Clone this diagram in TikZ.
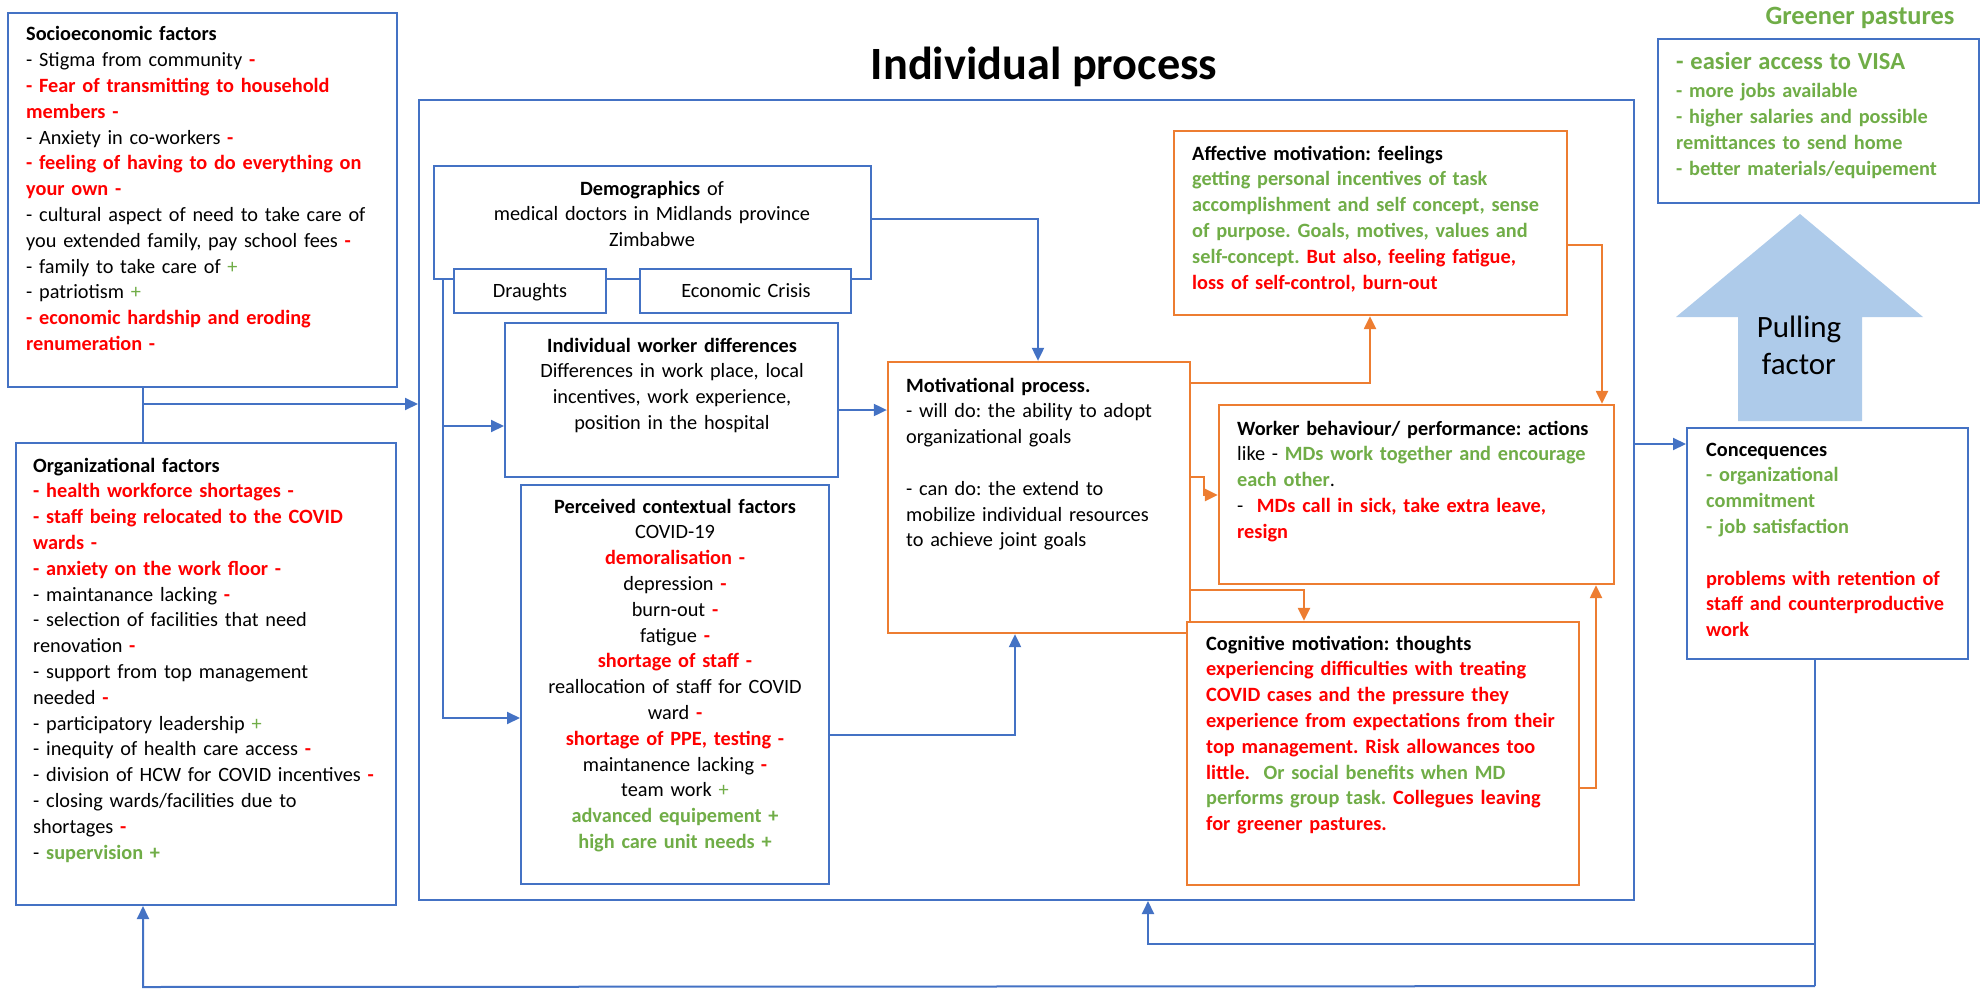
\documentclass[tikz,border=0pt]{standalone}
\usepackage{fontspec}
\setmainfont{Carlito}
\usetikzlibrary{arrows.meta,fit}
\frenchspacing

\definecolor{cred}{HTML}{FF0000}
\definecolor{cgreen}{HTML}{70AD47}
\definecolor{cblue}{HTML}{4472C4}
\definecolor{corange}{HTML}{ED7D31}
\definecolor{carrow}{RGB}{174,203,234}

\newcommand\rminus{\textcolor{cred}{\textbf{-}}}
\newcommand\gplus{\textcolor{cgreen}{+}}
\newcommand\rb[1]{\textcolor{cred}{\textbf{#1}}}
\newcommand\gb[1]{\textcolor{cgreen}{\textbf{#1}}}

\tikzset{
  bluebox/.style={draw=cblue, line width=2pt, fill=white, inner sep=0pt},
  orangebox/.style={draw=corange, line width=2.3pt, fill=white, inner sep=0pt},
  body/.style={inner sep=0pt, font=\fontsize{20.3}{25.8}\selectfont,
    text width=#1, align=left, anchor=base west},
  cbody/.style={inner sep=0pt, font=\fontsize{20.3}{25.8}\selectfont,
    text width=#1, align=center, anchor=base},
  bconn/.style={draw=cblue, line width=2pt},
  barrow/.style={bconn, -{Triangle[length=13pt,width=12pt]}},
  oarrow/.style={draw=corange, line width=2.3pt, -{Triangle[length=13pt,width=12pt]}},
}

\begin{document}
\begin{tikzpicture}[x=1pt,y=-1pt]
\useasboundingbox (0,0) rectangle (1984,990);

% ---- outer frame of the individual process ----
\node[bluebox, fill=none, fit={(419,100) (1634,900)}] (big) {};
\node[inner sep=0pt, anchor=base, font=\fontsize{46.3}{52}\selectfont\bfseries] (title) at (1044,79) {Individual process};

% ---- left column ----
\node[bluebox, fit={(8,13) (397,387)}] (socio) {};
\node[body=385pt] (socioT) at (26,41) {%
\textbf{Socioeconomic factors}\\
- Stigma from community \rminus\\
\rb{- Fear of transmitting to household}\\
\rb{members -}\\
- Anxiety in co-workers \rminus\\
\rb{- feeling of having to do everything on}\\
\rb{your own -}\\
- cultural aspect of need to take care of\\
you extended family, pay school fees \rminus\\
- family to take care of \gplus\\
- patriotism \gplus\\
\rb{- economic hardship and eroding}\\
\rb{renumeration -}};

\node[bluebox, fit={(16,443) (396,905)}] (org) {};
\node[body=370pt] (orgT) at (33,472) {%
\textbf{Organizational factors}\\
\rb{- health workforce shortages -}\\
\rb{- staff being relocated to the COVID}\\
\rb{wards -}\\
\rb{- anxiety on the work floor -}\\
- maintanance lacking \rminus\\
- selection of facilities that need\\
renovation \rminus\\
- support from top management\\
needed \rminus\\
- participatory leadership \gplus\\
- inequity of health care access \rminus\\
- division of HCW for COVID incentives \rminus\\
- closing wards/facilities due to\\
shortages \rminus\\
- \gb{supervision +}};

% ---- inside the individual process ----
\node[bluebox, fit={(434,166) (871,279)}] (demo) {};
\node[cbody=430pt] (demoT) at (652,195) {%
\textbf{Demographics} of\\
medical doctors in Midlands province\\
Zimbabwe};
\node[bluebox, fit={(454,269) (606,313)}] (draughts) {};
\node[cbody=150pt] (draughtsT) at (530,297) {Draughts};
\node[bluebox, fit={(640,269) (851,313)}] (eco) {};
\node[cbody=210pt] (ecoT) at (746,297) {Economic Crisis};

\node[bluebox, fit={(505,323) (838,477)}] (iwd) {};
\node[cbody=330pt] (iwdT) at (672,352) {%
\textbf{Individual worker differences}\\
Differences in work place, local\\
incentives, work experience,\\
position in the hospital};

\node[bluebox, fit={(521,485) (829,884)}] (perc) {};
\node[cbody=305pt] (percT) at (675,513) {%
\textbf{Perceived contextual factors}\\
COVID-19\\
\rb{demoralisation -}\\
depression \rminus\\
burn-out \rminus\\
fatigue \rminus\\
\rb{shortage of staff -}\\
reallocation of staff for COVID\\
ward \rminus\\
\rb{shortage of PPE, testing -}\\
maintanence lacking \rminus\\
team work \gplus\\
\gb{advanced equipement +}\\
\gb{high care unit needs +}};

\node[orangebox, fit={(888,362) (1190,633)}] (motiv) {};
\node[body=280pt] (motivT) at (906,392) {%
\textbf{Motivational process.}\\
- will do: the ability to adopt\\
organizational goals\\[25.8pt]
- can do: the extend to\\
mobilize individual resources\\
to achieve joint goals};

\node[orangebox, fit={(1174,131) (1567,315)}] (affect) {};
\node[body=375pt] (affectT) at (1192,160) {%
\textbf{Affective motivation: feelings}\\
\gb{getting personal incentives of task}\\
\gb{accomplishment and self concept, sense}\\
\gb{of purpose. Goals, motives, values and}\\
\gb{self-concept.} \rb{But also, feeling fatigue,}\\
\rb{loss of self-control, burn-out}};

\node[orangebox, fit={(1219,405) (1614,584)}] (worker) {};
\node[body=375pt] (workerT) at (1237,435) {%
\textbf{Worker behaviour/ performance: actions}\\
like - \gb{MDs work together and encourage}\\
\gb{each other}.\\
-\ \ \rb{MDs call in sick, take extra leave,}\\
\rb{resign}};

\node[orangebox, fit={(1187,622) (1579,885)}] (cogn) {};
\node[body=375pt] (cognT) at (1206,650) {%
\textbf{Cognitive motivation: thoughts}\\
\rb{experiencing difficulties with treating}\\
\rb{COVID cases and the pressure they}\\
\rb{experience from expectations from their}\\
\rb{top management. Risk allowances too}\\
\rb{little.}\ \ \gb{Or social benefits when MD}\\
\gb{performs group task.} \rb{Collegues leaving}\\
\rb{for greener pastures.}};

% ---- right column ----
\node[inner sep=0pt, anchor=base, font=\fontsize{26.4}{31}\selectfont\bfseries, text=cgreen] (gpT) at (1860,25) {Greener pastures};
\node[bluebox, fit={(1658,39) (1979,203)}] (green) {};
\node[body=300pt] (greenT) at (1676,70) {%
\gb{\fontsize{24.5}{28}\selectfont - easier access to VISA}\\[2pt]
\gb{- more jobs available}\\
\gb{- higher salaries and possible}\\
\gb{remittances to send home}\\
\gb{- better materials/equipement}};

\path[fill=carrow] (1800,214) -- (1923,317) -- (1862,317) -- (1862,421)
  -- (1738,421) -- (1738,317) -- (1676,317) -- cycle;
\node[inner sep=0pt, anchor=base, text width=160pt, align=center,
  font=\fontsize{31}{37}\selectfont] (pullT) at (1799,337) {Pulling\\factor};

\node[bluebox, fit={(1687,428) (1968,659)}] (conseq) {};
\node[body=265pt] (conseqT) at (1706,456) {%
\textbf{Concequences}\\
\gb{- organizational}\\
\gb{commitment}\\
\gb{- job satisfaction}\\[25.8pt]
\rb{problems with retention of}\\
\rb{staff and counterproductive}\\
\rb{work}};

% ---- blue connectors ----
\coordinate (jL) at (143,404);
\draw[bconn] (socio.south -| jL) -- (org.north -| jL);
\draw[barrow] (jL) -- (big.west |- jL);

\coordinate (jD) at (443,426);
\coordinate (jP) at (443,718);
\draw[barrow] (demo.south -| jD) -- (jP) -- (perc.west |- jP);
\draw[barrow] (jD) -- (iwd.west |- jD);

\coordinate (a1) at (860,410);
\draw[barrow] (iwd.east |- a1) -- (motiv.west |- a1);
\coordinate (a2) at (1038,219);
\draw[barrow] (demo.east |- a2) -| (motiv.north -| a2);
\coordinate (a3) at (1015,735);
\draw[barrow] (perc.east |- a3) -| (motiv.south -| a3);

% ---- orange connectors ----
\coordinate (o1) at (1370,383);
\draw[oarrow] (motiv.east |- o1) -| (affect.south -| o1);
\coordinate (o2) at (1602,245);
\draw[oarrow] (affect.east |- o2) -| (worker.north -| o2);
\coordinate (o3) at (1204,477);
\coordinate (o3b) at (1204,495);
\draw[oarrow] (motiv.east |- o3) -- (o3) -- (o3b) -- (worker.west |- o3b);
\coordinate (o4) at (1304,590);
\draw[oarrow] (motiv.east |- o4) -| (cogn.north -| o4);
\coordinate (o5) at (1596,788);
\draw[oarrow] (cogn.east |- o5) -| (worker.south -| o5);

% ---- outcomes and feedback ----
\coordinate (c1) at (1660,444);
\draw[barrow] (big.east |- c1) -- (conseq.west |- c1);
\coordinate (f1) at (1815,944);
\coordinate (f2) at (1815,986);
\coordinate (f3) at (1148,944);
\coordinate (f4) at (143,987);
\draw[bconn] (conseq.south -| f1) -- (f2);
\draw[barrow] (f1) -- (f3) -- (big.south -| f3);
\draw[barrow] (f2) -- (f4) -- (org.south -| f4);
\end{tikzpicture}
\end{document}
